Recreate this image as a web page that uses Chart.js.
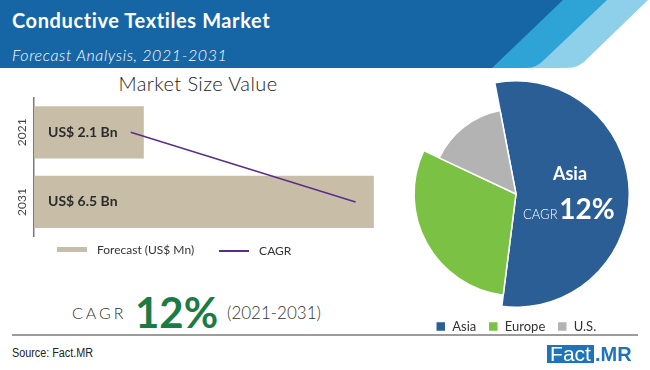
<!DOCTYPE html>
<html>
<head>
<meta charset="utf-8">
<script src="https://cdn.jsdelivr.net/npm/chart.js@4.4.1/dist/chart.umd.min.js"></script>
<style>
  body { margin: 0; width: 650px; height: 370px; position: relative; overflow: hidden; background: #fff; font-family: Lato, sans-serif; }
  .abs { position: absolute; white-space: nowrap; }
  .box { position: absolute; }
</style>
</head>
<body>
<svg class="abs" style="left:0;top:0" width="650" height="68">
  <path d="M0,0 H648 L588,58 Q580,68 566,68 H0 Z" fill="#8ed0ea"/>
  <path d="M0,0 H607 L545,59 Q537,68 526,68 H0 Z" fill="#2ea4d6"/>
  <path d="M0,0 H563 L492,68 H0 Z" fill="#1666a6"/>
</svg>
<div class="abs" style="left:12px;top:10px;font:bold 20px/20px Lato;letter-spacing:0.6px;color:#fff">Conductive Textiles Market</div>
<div class="abs" style="left:12px;top:47px;font:italic 300 16px/16px Lato;letter-spacing:0.6px;color:#fff">Forecast Analysis, 2021-2031</div>

<div class="abs" style="left:98px;top:73px;width:200px;text-align:center;font:300 20px/20px Lato;letter-spacing:0.4px;color:#222">Market Size Value</div>
<div class="box" style="left:0;top:92px;width:410px;height:150px"><canvas id="barChart"></canvas></div>
<div class="abs" id="barLegend" style="left:57px;top:241px;font:12px/14px Lato;color:#333"></div>

<div class="box" style="left:400px;top:78px;width:232px;height:265px"><canvas id="pieChart"></canvas></div>
<div class="abs" style="left:530px;top:164px;width:80px;text-align:center;font:bold 18px/18px Lato;color:#fff;z-index:2">Asia</div>
<div class="abs" style="left:523px;top:194px;font:bold 28px/28px Lato;color:#fff;z-index:2"><span style="font:300 13px Lato">CAGR</span>&#8202;12%</div>

<div class="abs" style="left:72px;top:305px;font:300 16px/16px Lato;letter-spacing:3px;color:#333">CAGR</div>
<div class="abs" style="left:135px;top:291px;font:bold 42px/42px Lato;color:#1c7b44">12%</div>
<div class="abs" style="left:227px;top:304px;font:300 17px/17px Lato;color:#333">(2021-2031)</div>

<div class="box" style="left:12px;top:334px;width:626px;height:2px;background:#9c9c9c"></div>
<div class="abs" style="left:12px;top:347px;font:12px/12px 'Liberation Sans';color:#222;transform:scaleX(0.9);transform-origin:0 0">Source: Fact.MR</div>
<div class="box" style="left:547px;top:345px;width:47px;height:18px;background:#1d74b9"></div>
<div class="abs" style="left:547px;top:344px;width:47px;text-align:center;font:21px/20px 'Liberation Sans';color:#fff">Fact</div>
<div class="abs" style="left:595px;top:344px;font:bold 20px/20px 'Liberation Sans';color:#1d74b9">.MR</div>

<script>
const years = ['2021', '2031'];
const marketSizeBn = [2.1, 6.5];
const cagrTrend = [1.85, 6.15];
const regions = ['Asia', 'Europe', 'U.S.'];
const regionShare = [55, 30, 15];

// relative radius of each pie slice
const sliceScale = [1, 0.9, 0.75];

const tan = '#c8bea8';
const purple = '#5a2d8c';

// value labels inside the bars
const barLabels = {
    id: 'barLabels',
    afterDatasetsDraw(chart) {
        const { ctx, chartArea } = chart;
        const meta = chart.getDatasetMeta(0);
        ctx.save();
        ctx.font = 'bold 14px Lato';
        ctx.fillStyle = '#2b2b2b';
        ctx.textBaseline = 'middle';
        meta.data.forEach((bar, i) => {
            ctx.fillText(`US$ ${marketSizeBn[i]} Bn`, chartArea.left + 14, bar.y);
        });
        ctx.restore();
    }
};

const barChart = new Chart(document.getElementById('barChart'), {
    type: 'bar',
    data: {
        labels: years,
        datasets: [{
            label: 'Forecast (US$ Mn)',
            data: marketSizeBn,
            backgroundColor: tan,
            barPercentage: 0.75,
            categoryPercentage: 1,
            order: 2
        }, {
            type: 'line',
            label: 'CAGR',
            indexAxis: 'y',
            data: cagrTrend,
            borderColor: purple,
            borderWidth: 1.5,
            pointRadius: 0,
            fill: false,
            order: 1
        }]
    },
    options: {
        indexAxis: 'y',
        responsive: true,
        maintainAspectRatio: false,
        animation: false,
        events: [],
        layout: { padding: { top: 5.5, right: 10, bottom: 5 } },
        plugins: { legend: { display: false }, tooltip: { enabled: false } },
        scales: {
            x: { display: false, min: 0, max: 7 },
            y: {
                grid: { display: false, drawTicks: false },
                border: { display: true, color: '#7a7a7a', width: 1.5 },
                ticks: {
                    minRotation: 90,
                    maxRotation: 90,
                    crossAlign: 'center',
                    padding: -2,
                    color: '#444',
                    font: { family: 'Lato', size: 12 }
                },
                afterFit: (scale) => { scale.width = 34; }
            }
        }
    },
    plugins: [barLabels]
});

// legend for the bar chart, built from its datasets
const legendEl = document.getElementById('barLegend');
barChart.data.datasets.forEach((ds, i) => {
    const item = document.createElement('span');
    item.style.cssText = 'display:inline-flex;align-items:center;margin-right:' + (i === 0 ? '25px' : '0');
    const swatch = document.createElement('span');
    const thick = ds.type === 'line' ? 2 : 5;
    swatch.style.cssText = `display:inline-block;width:30px;height:${thick}px;margin-right:10px;background:${ds.type === 'line' ? ds.borderColor : ds.backgroundColor}`;
    item.appendChild(swatch);
    item.appendChild(document.createTextNode(ds.label));
    legendEl.appendChild(item);
});

// give every slice its own radius
const sliceRadius = {
    id: 'sliceRadius',
    afterDatasetUpdate(chart, args) {
        const ctrl = args.meta.controller;
        args.meta.data.forEach((arc, i) => {
            arc.outerRadius = ctrl.outerRadius * sliceScale[i];
        });
    }
};

new Chart(document.getElementById('pieChart'), {
    type: 'pie',
    data: {
        labels: regions,
        datasets: [{
            data: regionShare,
            backgroundColor: ['#2a5e95', '#7bc143', '#b3b3b3'],
            borderColor: '#fff',
            borderWidth: 1.5
        }]
    },
    options: {
        responsive: true,
        maintainAspectRatio: false,
        animation: false,
        events: [],
        rotation: -10.8,
        layout: { padding: { top: 2 } },
        plugins: {
            tooltip: { enabled: false },
            legend: {
                position: 'bottom',
                labels: {
                    boxWidth: 10,
                    boxHeight: 10,
                    padding: 12,
                    color: '#333',
                    font: { family: 'Lato', size: 13 }
                }
            }
        }
    },
    plugins: [sliceRadius]
});
</script>
</body>
</html>
